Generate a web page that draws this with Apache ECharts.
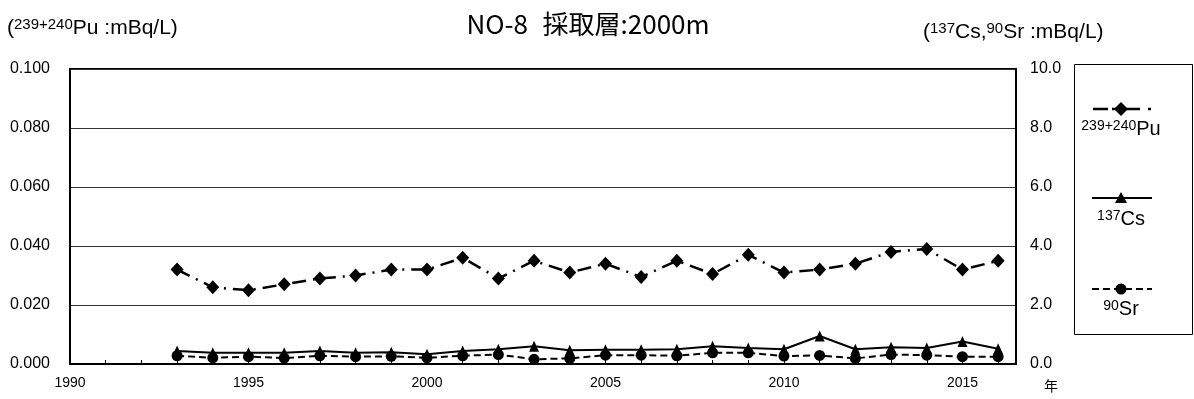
<!DOCTYPE html>
<html>
<head>
<meta charset="utf-8">
<script src="https://cdn.jsdelivr.net/npm/echarts@6/dist/echarts.min.js"></script>
<style>
  html, body { margin: 0; padding: 0; background: #fff; }
  #chart { width: 1194px; height: 399px; }
</style>
</head>
<body>
<div id="chart"></div>
<script>
const years = [1993, 1994, 1995, 1996, 1997, 1998, 1999, 2000, 2001, 2002, 2003, 2004,
  2005, 2006, 2007, 2008, 2009, 2010, 2011, 2012, 2013, 2014, 2015, 2016]
// 239+240Pu (left axis, mBq/L)
const puValues = [0.032, 0.026, 0.025, 0.027, 0.029, 0.030, 0.032, 0.032, 0.036, 0.029, 0.035, 0.031,
  0.034, 0.0295, 0.035, 0.0305, 0.037, 0.031, 0.032, 0.034, 0.038, 0.039, 0.032, 0.035]
// 137Cs (right axis, mBq/L)
const csValues = [0.44, 0.38, 0.38, 0.38, 0.44, 0.38, 0.40, 0.33, 0.44, 0.50, 0.60, 0.47,
  0.48, 0.48, 0.50, 0.60, 0.54, 0.50, 0.95, 0.50, 0.57, 0.54, 0.76, 0.52]
// 90Sr (right axis, mBq/L)
const srValues = [0.28, 0.21, 0.25, 0.20, 0.28, 0.25, 0.26, 0.21, 0.28, 0.32, 0.16, 0.19,
  0.30, 0.30, 0.28, 0.38, 0.38, 0.27, 0.29, 0.19, 0.32, 0.30, 0.25, 0.25]
const xLabelYears = [1990, 1995, 2000, 2005, 2010, 2015]

const LATIN = "'Liberation Sans', Arial, sans-serif"
const CJK = "'Noto Sans CJK JP', sans-serif"

const pair = (vals) => years.map((y, i) => [y, vals[i]])

const supRich = (size, supSize) => ({
  n: { fontFamily: LATIN, fontSize: size, color: '#000' },
  s: { fontFamily: LATIN, fontSize: supSize, color: '#000', verticalAlign: 'top', padding: [0, 0, 6, 0] }
})

const chart = echarts.init(document.getElementById('chart'), null, { renderer: 'canvas' })

chart.setOption({
  animation: false,
  backgroundColor: '#fff',
  grid: {
    left: 70, right: 178, top: 69, bottom: 35,
    show: true, borderColor: '#000', borderWidth: 2, backgroundColor: 'transparent'
  },
  xAxis: {
    type: 'value',
    min: 1990,
    max: 2016.5,
    interval: 1,
    axisLine: { lineStyle: { color: '#000', width: 2 } },
    axisTick: { show: true, inside: true, length: 4, lineStyle: { color: '#000', width: 1 } },
    axisLabel: {
      color: '#000', fontFamily: LATIN, fontSize: 14, margin: 12,
      formatter: (v) => xLabelYears.includes(v) ? String(v) : ''
    },
    splitLine: { show: false }
  },
  yAxis: [
    {
      type: 'value',
      min: 0, max: 0.1, interval: 0.02,
      axisLine: { show: true, lineStyle: { color: '#000', width: 2 } },
      axisTick: { show: false },
      axisLabel: { color: '#000', fontFamily: LATIN, fontSize: 16, margin: 20, formatter: (v) => v.toFixed(3) },
      splitLine: { show: true, lineStyle: { color: '#333', width: 1 } }
    },
    {
      type: 'value',
      min: 0, max: 10, interval: 2,
      axisLine: { show: true, lineStyle: { color: '#000', width: 2 } },
      axisTick: { show: false },
      axisLabel: { color: '#000', fontFamily: LATIN, fontSize: 16, margin: 14, formatter: (v) => v.toFixed(1) },
      splitLine: { show: false }
    }
  ],
  series: [
    {
      name: '239+240Pu',
      type: 'line',
      yAxisIndex: 0,
      data: pair(puValues),
      symbol: 'diamond',
      symbolSize: [13, 14],
      itemStyle: { color: '#000' },
      lineStyle: { color: '#000', width: 2.5, type: [14, 7, 2, 7] },
      z: 3
    },
    {
      name: '137Cs',
      type: 'line',
      yAxisIndex: 1,
      data: pair(csValues),
      symbol: 'triangle',
      symbolSize: [10, 11],
      itemStyle: { color: '#000' },
      lineStyle: { color: '#000', width: 2 },
      z: 3
    },
    {
      name: '90Sr',
      type: 'line',
      yAxisIndex: 1,
      data: pair(srValues),
      symbol: 'circle',
      symbolSize: 11,
      itemStyle: { color: '#000' },
      lineStyle: { color: '#000', width: 2, type: [7, 4] },
      z: 4
    }
  ],
  graphic: [
    // title
    {
      type: 'text', x: 588, y: 24,
      style: {
        text: '{a|NO-8}  {b|採取層:2000m}',
        align: 'center', verticalAlign: 'middle',
        rich: {
          a: { fontFamily: CJK, fontSize: 26, color: '#000' },
          b: { fontFamily: CJK, fontSize: 26, color: '#000', padding: [0, 0, 0, 8] }
        }
      }
    },
    // left unit
    {
      type: 'text', x: 7, y: 28,
      style: {
        text: '{n|(}{s|239+240}{n|Pu :mBq/L)}',
        align: 'left', verticalAlign: 'middle',
        rich: supRich(21, 15)
      }
    },
    // right unit
    {
      type: 'text', x: 923, y: 32,
      style: {
        text: '{n|(}{s|137}{n|Cs,}{s|90}{n|Sr :mBq/L)}',
        align: 'left', verticalAlign: 'middle',
        rich: supRich(21, 15)
      }
    },
    // x unit
    {
      type: 'text', x: 1051, y: 386,
      style: { text: '年', fontFamily: CJK, fontSize: 14, fill: '#000', align: 'center', verticalAlign: 'middle' }
    },
    // legend box
    {
      type: 'rect', shape: { x: 1074.5, y: 64.5, width: 118, height: 270 },
      style: { fill: '#fff', stroke: '#000', lineWidth: 1 }
    },
    // Pu legend
    {
      type: 'line', shape: { x1: 1093, y1: 109, x2: 1152, y2: 109 },
      style: { stroke: '#000', lineWidth: 2.5, lineDash: [15, 4, 28, 8, 3, 10] }
    },
    {
      type: 'polygon', shape: { points: [[1121, 102], [1128, 109], [1121, 116], [1114, 109]] },
      style: { fill: '#000' }
    },
    {
      type: 'text', x: 1121, y: 129,
      style: {
        text: '{s|239+240}{n|Pu}', align: 'center', verticalAlign: 'middle',
        rich: supRich(20, 14)
      }
    },
    // Cs legend
    {
      type: 'line', shape: { x1: 1092, y1: 198, x2: 1152, y2: 198 },
      style: { stroke: '#000', lineWidth: 2 }
    },
    {
      type: 'polygon', shape: { points: [[1121, 192], [1127, 203], [1115, 203]] },
      style: { fill: '#000' }
    },
    {
      type: 'text', x: 1121, y: 219,
      style: {
        text: '{s|137}{n|Cs}', align: 'center', verticalAlign: 'middle',
        rich: supRich(20, 14)
      }
    },
    // Sr legend
    {
      type: 'line', shape: { x1: 1092, y1: 289, x2: 1152, y2: 289 },
      style: { stroke: '#000', lineWidth: 2, lineDash: [7, 4] }
    },
    {
      type: 'circle', shape: { cx: 1121, cy: 289, r: 5.5 },
      style: { fill: '#000' }
    },
    {
      type: 'text', x: 1121, y: 309,
      style: {
        text: '{s|90}{n|Sr}', align: 'center', verticalAlign: 'middle',
        rich: supRich(20, 14)
      }
    }
  ]
})
</script>
</body>
</html>
